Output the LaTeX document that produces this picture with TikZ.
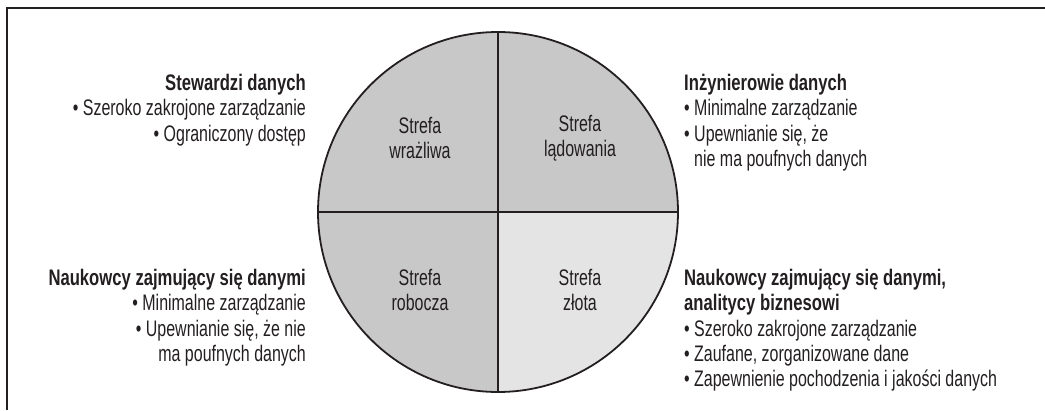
\documentclass[tikz,border=0pt]{standalone}
\usepackage{fontspec}
\setmainfont{Liberation Sans}[FakeStretch=0.71,BoldFeatures={FakeStretch=0.74}]
\definecolor{ciemny}{HTML}{231F20}
\definecolor{szary}{HTML}{C8C8C8}
\definecolor{jasny}{HTML}{E4E4E4}
\begin{document}
\begin{tikzpicture}[x=1pt,y=-1pt,
		opis/.style={inner sep=0pt,text=ciemny,font=\fontsize{22.5}{25.3}\selectfont},
		strefa/.style={opis,align=center},
		linia/.style={draw=ciemny,line width=1.8pt}]
	\useasboundingbox (0,0) rectangle (1045,410);
	% ramka
	\draw[ciemny,line width=2.6pt] (7,410) -- (7,8) -- (1045,8);
	% kolo i cwiartki
	\coordinate (srodek) at (498,212);
	\fill[szary] (srodek) circle[radius=180];
	\fill[jasny] (srodek) -- ++(180,0) arc[start angle=0,end angle=90,radius=180] -- cycle;
	\node[circle,linia,minimum size=360pt,inner sep=0pt,outer sep=0pt] (kolo) at (srodek) {};
	\draw[linia] (kolo.north) -- (kolo.south);
	\draw[linia] (kolo.west) -- (kolo.east);
	\node[strefa] (wrazliwa) at (420,138) {Strefa\\wrażliwa};
	\node[strefa] (ladowania) at (580,138) {Strefa\\lądowania};
	\node[strefa] (robocza) at (420,290) {Strefa\\robocza};
	\node[strefa] (zlota) at (580,290) {Strefa\\złota};
	% role
	\node[opis,align=right,anchor=north east] (stewardzi) at (306,74)
		{\textbf{Stewardzi danych}\\• Szeroko zakrojone zarządzanie\\• Ograniczony dostęp};
	\node[opis,align=left,anchor=north west] (inzynierowie) at (684,74)
		{\textbf{Inżynierowie danych}\\• Minimalne zarządzanie\\• Upewnianie się, że\\\phantom{• }nie ma poufnych danych};
	\node[opis,align=right,anchor=north east] (naukowcy) at (306,269)
		{\textbf{Naukowcy zajmujący się danymi}\\• Minimalne zarządzanie\\• Upewnianie się, że nie\\ma poufnych danych};
	\node[opis,align=left,anchor=north west] (analitycy) at (684,269)
		{\textbf{Naukowcy zajmujący się danymi,}\\\textbf{analitycy biznesowi}\\• Szeroko zakrojone zarządzanie\\• Zaufane, zorganizowane dane\\• Zapewnienie pochodzenia i jakości danych};
\end{tikzpicture}
\end{document}
